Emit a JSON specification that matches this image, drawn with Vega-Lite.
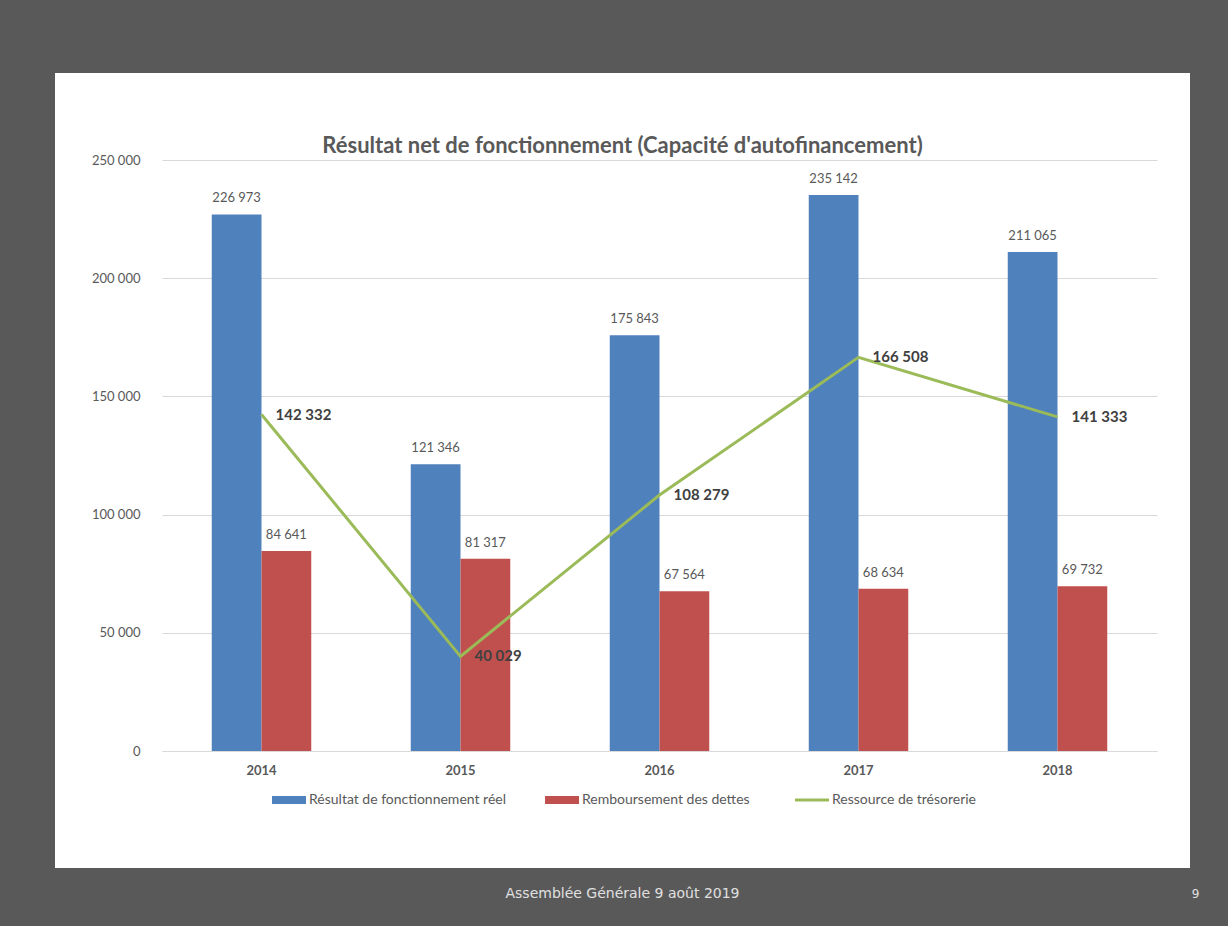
{
  "$schema": "https://vega.github.io/schema/vega-lite/v6.json",
  "autosize": "none",
  "width": 1135,
  "height": 795,
  "padding": {"left": 55, "top": 73, "right": 38, "bottom": 58},
  "background": "#595959",
  "view": {"fill": "white", "stroke": null},
  "config": {
    "font": "Lato",
    "locale": {"number": {"decimal": ",", "thousands": " ", "grouping": [3], "currency": ["", " €"]}}
  },
  "title": {
    "text": "Résultat net de fonctionnement (Capacité d'autofinancement)",
    "anchor": "middle",
    "frame": "group",
    "orient": "top",
    "offset": -95,
    "baseline": "middle",
    "font": "Lato",
    "fontSize": 22,
    "fontWeight": "bold",
    "color": "#595959"
  },
  "data": {
    "values": [
      {"year": "2014", "serie": "Résultat de fonctionnement réel", "value": 226973},
      {"year": "2014", "serie": "Remboursement des dettes", "value": 84641},
      {"year": "2014", "serie": "Ressource de trésorerie", "value": 142332},
      {"year": "2015", "serie": "Résultat de fonctionnement réel", "value": 121346},
      {"year": "2015", "serie": "Remboursement des dettes", "value": 81317},
      {"year": "2015", "serie": "Ressource de trésorerie", "value": 40029},
      {"year": "2016", "serie": "Résultat de fonctionnement réel", "value": 175843},
      {"year": "2016", "serie": "Remboursement des dettes", "value": 67564},
      {"year": "2016", "serie": "Ressource de trésorerie", "value": 108279},
      {"year": "2017", "serie": "Résultat de fonctionnement réel", "value": 235142},
      {"year": "2017", "serie": "Remboursement des dettes", "value": 68634},
      {"year": "2017", "serie": "Ressource de trésorerie", "value": 166508},
      {"year": "2018", "serie": "Résultat de fonctionnement réel", "value": 211065},
      {"year": "2018", "serie": "Remboursement des dettes", "value": 69732},
      {"year": "2018", "serie": "Ressource de trésorerie", "value": 141333}
    ]
  },
  "encoding": {
    "x": {
      "field": "year",
      "type": "nominal",
      "scale": {"range": [107, 1102], "paddingInner": 0, "paddingOuter": 0},
      "axis": {
        "orient": "bottom",
        "offset": -117,
        "labelAngle": 0,
        "labelPadding": 13,
        "labelFontSize": 13,
        "labelFontWeight": "bold",
        "labelColor": "#595959",
        "ticks": false,
        "domain": true,
        "domainColor": "#d9d9d9",
        "grid": false,
        "title": "Assemblée Générale 9 août 2019",
        "titleX": 567,
        "titleY": 142,
        "titleAlign": "center",
        "titleBaseline": "middle",
        "titleFont": "DejaVu Sans",
        "titleFontSize": 14,
        "titleFontWeight": "normal",
        "titleColor": "#e0e0e0"
      }
    },
    "y": {
      "field": "value",
      "type": "quantitative",
      "scale": {"domain": [0, 250000], "range": [678, 87], "nice": false},
      "axis": {
        "orient": "left",
        "offset": -85,
        "values": [0, 50000, 100000, 150000, 200000, 250000],
        "format": ",d",
        "labelPadding": 0,
        "tickSize": 0,
        "ticks": false,
        "domain": false,
        "grid": true,
        "gridColor": "#d9d9d9",
        "gridWidth": 1,
        "labelFontSize": 13,
        "labelColor": "#595959",
        "title": "9",
        "titleAngle": 0,
        "titleX": 1055,
        "titleY": 820,
        "titleAlign": "center",
        "titleBaseline": "middle",
        "titleFont": "DejaVu Sans",
        "titleFontSize": 12,
        "titleFontWeight": "normal",
        "titleColor": "#e0e0e0"
      }
    }
  },
  "layer": [
    {
      "transform": [{"filter": "datum.serie !== 'Ressource de trésorerie'"}],
      "mark": {"type": "bar"},
      "encoding": {
        "xOffset": {
          "field": "serie",
          "type": "nominal",
          "scale": {"domain": ["Résultat de fonctionnement réel", "Remboursement des dettes"], "paddingInner": 0, "paddingOuter": 1.07}
        },
        "color": {
          "field": "serie",
          "type": "nominal",
          "scale": {
            "domain": ["Résultat de fonctionnement réel", "Remboursement des dettes", "Ressource de trésorerie"],
            "range": ["#4f81bd", "#c0504d", "#9bbb59"]
          },
          "legend": {
            "orient": "none",
            "legendX": 227,
            "legendY": 720,
            "direction": "horizontal",
            "columns": 3,
            "padding": 0,
            "title": null,
            "labelFont": "Lato",
            "labelFontSize": 14,
            "labelColor": "#595959",
            "labelLimit": 400,
            "labelOffset": 13,
            "columnPadding": 39,
            "symbolSize": 1156,
            "encode": {
              "symbols": {
                "update": {
                  "shape": {"signal": "datum.value === 'Ressource de trésorerie' ? 'stroke' : 'M-1,-0.235H1V0.235H-1Z'"},
                  "fill": {"signal": "datum.value === 'Ressource de trésorerie' ? 'transparent' : scale('color', datum.value)"},
                  "stroke": {"signal": "scale('color', datum.value)"},
                  "strokeWidth": {"signal": "datum.value === 'Ressource de trésorerie' ? 3 : 0"},
                  "opacity": {"value": 1}
                }
              }
            }
          }
        }
      }
    },
    {
      "transform": [{"filter": "datum.serie !== 'Ressource de trésorerie'"}],
      "mark": {"type": "text", "baseline": "bottom", "dy": -9, "fontSize": 13, "color": "#595959", "font": "Lato"},
      "encoding": {
        "xOffset": {"field": "serie", "type": "nominal"},
        "text": {"field": "value", "type": "quantitative", "format": ",d"}
      }
    },
    {
      "transform": [{"filter": "datum.serie === 'Ressource de trésorerie'"}],
      "mark": {"type": "line", "strokeWidth": 3},
      "encoding": {
        "color": {"field": "serie", "type": "nominal"}
      }
    },
    {
      "transform": [{"filter": "datum.serie === 'Ressource de trésorerie'"}],
      "mark": {"type": "text", "align": "left", "baseline": "middle", "dx": 14, "fontSize": 15, "fontWeight": "bold", "color": "#404040", "font": "Lato"},
      "encoding": {
        "text": {"field": "value", "type": "quantitative", "format": ",d"}
      }
    }
  ]
}
